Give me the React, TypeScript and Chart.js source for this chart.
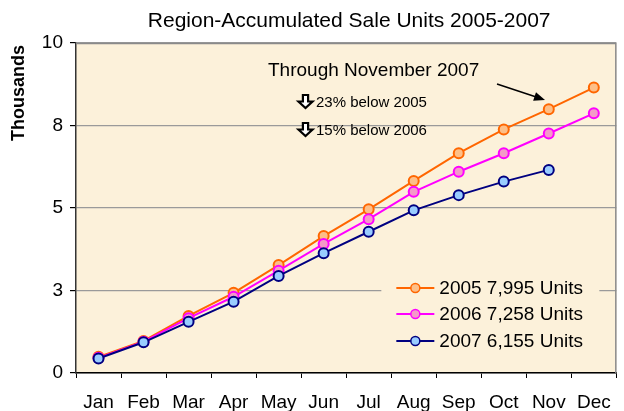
import React, { useEffect, useRef } from "react";
import { Chart, registerables } from "chart.js";

Chart.register(...registerables);

const months = ["Jan", "Feb", "Mar", "Apr", "May", "Jun", "Jul", "Aug", "Sep", "Oct", "Nov", "Dec"];
const units2005 = [0.49, 0.97, 1.73, 2.43, 3.27, 4.15, 4.96, 5.82, 6.66, 7.38, 7.995, 8.65];
const units2006 = [0.46, 0.95, 1.66, 2.31, 3.1, 3.91, 4.66, 5.49, 6.1, 6.66, 7.258, 7.87];
const units2007 = [0.44, 0.93, 1.55, 2.16, 2.94, 3.63, 4.28, 4.93, 5.39, 5.8, 6.155, null];
const seriesLabels = ["2005 7,995 Units", "2006 7,258 Units", "2007 6,155 Units"];
const titleText = "Region-Accumulated Sale Units 2005-2007";
const yTitle = "Thousands";
const noteMain = "Through November 2007";
const notes = ["23% below 2005", "15% below 2006"];

const FONT = "'Liberation Sans', Arial, Helvetica, sans-serif";
const PLOT_BG = "#FCF1DA";
const lineColors = ["#FF6600", "#FF00FF", "#000080"];
const fillColors = ["#FDBF88", "#F49AC8", "#99CCFF"];

export default function App() {
  const ref = useRef<HTMLCanvasElement>(null);

  useEffect(() => {
    document.body.style.margin = "0";
    const canvas = ref.current;
    if (!canvas) return;

    const drawDownArrow = (ctx: CanvasRenderingContext2D, cx: number, top: number) => {
      const h = 13;
      const hw = 7;
      const sw = 2.6;
      const headY = top + 6.5;
      ctx.beginPath();
      ctx.moveTo(cx - sw, top);
      ctx.lineTo(cx + sw, top);
      ctx.lineTo(cx + sw, headY);
      ctx.lineTo(cx + hw, headY);
      ctx.lineTo(cx, top + h);
      ctx.lineTo(cx - hw, headY);
      ctx.lineTo(cx - sw, headY);
      ctx.closePath();
      ctx.fillStyle = "#ffffff";
      ctx.fill();
      ctx.strokeStyle = "#000";
      ctx.lineWidth = 2.2;
      ctx.lineJoin = "miter";
      ctx.stroke();
    };

    const decor = {
      id: "decor",
      beforeDraw(chart: any) {
        const { ctx, chartArea } = chart;
        const { left, top, right, bottom } = chartArea;
        ctx.save();
        ctx.fillStyle = "#ffffff";
        ctx.fillRect(0, 0, chart.width, chart.height);
        ctx.fillStyle = PLOT_BG;
        ctx.fillRect(left, top, right - left, bottom - top);
        ctx.restore();
      },
      beforeDatasetsDraw(chart: any) {
        const { ctx, chartArea } = chart;
        const { left, top, right, bottom } = chartArea;
        ctx.save();
        ctx.strokeStyle = "#8a8a8a";
        ctx.lineWidth = 1.5;
        ctx.beginPath();
        ctx.moveTo(left, top + 0.5);
        ctx.lineTo(right - 0.5, top + 0.5);
        ctx.lineTo(right - 0.5, bottom);
        ctx.stroke();
        ctx.restore();
      },
      afterDatasetsDraw(chart: any) {
        const { ctx, chartArea } = chart;
        const { left, right, bottom } = chartArea;
        ctx.save();

        // legend box
        const lx = right - 235;
        ctx.fillStyle = PLOT_BG;
        ctx.fillRect(lx, bottom - 102, 218, 84);
        const rows = [bottom - 85, bottom - 59, bottom - 32];
        ctx.font = `19px ${FONT}`;
        ctx.textBaseline = "middle";
        ctx.textAlign = "left";
        for (let i = 0; i < 3; i++) {
          const y = rows[i];
          ctx.strokeStyle = lineColors[i];
          ctx.lineWidth = 2;
          ctx.beginPath();
          ctx.moveTo(lx + 15, y);
          ctx.lineTo(lx + 53, y);
          ctx.stroke();
          ctx.beginPath();
          ctx.arc(lx + 34, y, 4.5, 0, Math.PI * 2);
          ctx.fillStyle = fillColors[i];
          ctx.fill();
          ctx.lineWidth = 1.5;
          ctx.stroke();
          ctx.fillStyle = "#000";
          ctx.fillText(seriesLabels[i], lx + 58, y + 1);
        }

        // annotations
        ctx.fillStyle = "#000";
        ctx.font = `19px ${FONT}`;
        ctx.textAlign = "left";
        ctx.fillText(noteMain, 268, 71);

        const noteYs = [103, 131];
        for (let i = 0; i < notes.length; i++) {
          ctx.font = `15px ${FONT}`;
          ctx.fillStyle = "#000";
          ctx.fillText(notes[i], 316, noteYs[i]);
          drawDownArrow(ctx, 305.5, noteYs[i] - 8);
        }

        // arrow
        const x0 = 497, y0 = 84, x1 = 545, y1 = 100;
        ctx.strokeStyle = "#000";
        ctx.lineWidth = 1.5;
        ctx.beginPath();
        ctx.moveTo(x0, y0);
        ctx.lineTo(x1 - 8, y1 - 2.7);
        ctx.stroke();
        const ang = Math.atan2(y1 - y0, x1 - x0);
        ctx.beginPath();
        ctx.moveTo(x1, y1);
        ctx.lineTo(x1 - 11 * Math.cos(ang) + 4.5 * Math.sin(ang), y1 - 11 * Math.sin(ang) - 4.5 * Math.cos(ang));
        ctx.lineTo(x1 - 11 * Math.cos(ang) - 4.5 * Math.sin(ang), y1 - 11 * Math.sin(ang) + 4.5 * Math.cos(ang));
        ctx.closePath();
        ctx.fillStyle = "#000";
        ctx.fill();

        // title
        ctx.font = `21px ${FONT}`;
        ctx.textAlign = "center";
        ctx.textBaseline = "middle";
        ctx.fillText(titleText, (left + right) / 2 + 3, 21);

        // y title
        ctx.save();
        ctx.translate(19.5, 93);
        ctx.rotate(-Math.PI / 2);
        ctx.font = `bold 18px ${FONT}`;
        ctx.textAlign = "center";
        ctx.textBaseline = "middle";
        ctx.fillText(yTitle, 0, 0);
        ctx.restore();

        ctx.restore();
      },
    };

    const mk = (label: string, data: (number | null)[], i: number, order: number) => ({
      label,
      data,
      borderColor: lineColors[i],
      backgroundColor: fillColors[i],
      pointBackgroundColor: fillColors[i],
      pointBorderColor: lineColors[i],
      pointRadius: 5,
      pointBorderWidth: 2,
      borderWidth: 2,
      tension: 0,
      spanGaps: false,
      order,
    });

    const chart = new Chart(canvas, {
      type: "line",
      data: {
        labels: months,
        datasets: [
          mk(seriesLabels[0], units2005, 0, 2),
          mk(seriesLabels[1], units2006, 1, 1),
          mk(seriesLabels[2], units2007, 2, 0),
        ],
      },
      options: {
        responsive: false,
        animation: false,
        layout: { padding: { top: 43, right: 7, left: 0, bottom: 0 } },
        plugins: {
          legend: { display: false },
          title: { display: false },
          tooltip: { enabled: false },
        },
        scales: {
          x: {
            type: "category",
            offset: true,
            afterFit: (s: any) => {
              s.height = 38;
            },
            grid: {
              offset: true,
              drawOnChartArea: false,
              drawTicks: true,
              tickLength: 5,
              tickColor: "#000",
              color: "#000",
            },
            border: { display: true, color: "#000", width: 1.5 },
            ticks: {
              color: "#000",
              font: { family: FONT, size: 19 },
              padding: 13,
              maxRotation: 0,
              autoSkip: false,
            },
          },
          y: {
            min: 0,
            max: 10,
            afterFit: (s: any) => {
              s.width = 76;
            },
            grid: {
              color: "#9a9a9a",
              lineWidth: 1.2,
              tickColor: "#000",
              tickLength: 6,
              drawTicks: true,
            },
            border: { display: true, color: "#333", width: 1.5 },
            ticks: {
              stepSize: 2.5,
              color: "#000",
              font: { family: FONT, size: 19 },
              padding: 7,
              callback: (v: any) => String(Math.round(Number(v))),
            },
          },
        },
      },
      plugins: [decor],
    });

    return () => chart.destroy();
  }, []);

  return (
    <div style={{ width: 624, height: 411 }}>
      <canvas ref={ref} width={624} height={411} style={{ display: "block" }} />
    </div>
  );
}
